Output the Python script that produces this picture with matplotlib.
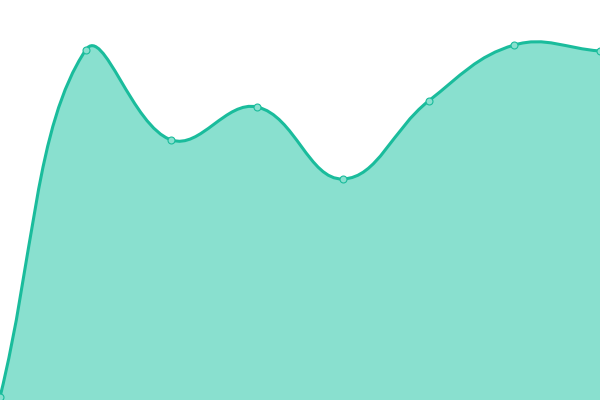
import numpy as np
import matplotlib
matplotlib.use("Agg")
import matplotlib.pyplot as plt
from matplotlib.path import Path
from matplotlib.patches import PathPatch

# Data (index on x, value on a 0..400 scale).
labels = ["0", "1", "2", "3", "4", "5", "6", "7"]
values = [3, 350, 260, 293, 221, 299, 355, 349]

LineColour = "#1abc9c"
FillColour = "#89e0cf"
Tension = 0.4 # Smoothing like a tension spline.

def spline_path(Points, Tension):
	# Build cubic bezier segments through the points (in pixel space).
	N = len(Points)
	CpPrev = np.zeros_like(Points)
	CpNext = np.zeros_like(Points)
	for i in range(N):
		Prev = Points[max(i - 1, 0)]
		Cur = Points[i]
		Next = Points[min(i + 1, N - 1)]
		D01 = np.hypot(*(Cur - Prev))
		D12 = np.hypot(*(Next - Cur))
		Total = D01 + D12
		S01 = D01 / Total if Total else 0
		S12 = D12 / Total if Total else 0
		CpPrev[i] = Cur - Tension * S01 * (Next - Prev)
		CpNext[i] = Cur + Tension * S12 * (Next - Prev)
	Verts = [Points[0]]
	Codes = [Path.MOVETO]
	for i in range(N - 1):
		Verts += [CpNext[i], CpPrev[i + 1], Points[i + 1]]
		Codes += [Path.CURVE4] * 3
	return np.array(Verts), Codes

fig = plt.figure(figsize=(6, 4), dpi=100)
ax = fig.add_axes([0, 0, 1, 1])
ax.set_xlim(0, len(values) - 1)
ax.set_ylim(0, 400)
ax.axis("off")

x = np.arange(len(values))
DataPoints = np.column_stack([x, values]).astype(float)
PixelPoints = ax.transData.transform(DataPoints)
Verts, Codes = spline_path(PixelPoints, Tension)
Verts = ax.transData.inverted().transform(Verts)

# Filled area under the curve.
FillVerts = np.vstack([Verts, [[x[-1], 0], [x[0], 0], Verts[0]]])
FillCodes = Codes + [Path.LINETO, Path.LINETO, Path.CLOSEPOLY]
ax.add_patch(PathPatch(Path(FillVerts, FillCodes), facecolor=FillColour, edgecolor="none", zorder=1))

# The line itself.
ax.add_patch(PathPatch(Path(Verts, Codes), facecolor="none", edgecolor=LineColour, linewidth=2.2, zorder=2))

# Point markers.
ax.plot(x, values, linestyle="none", marker="o", markersize=5, markerfacecolor=FillColour,
	markeredgecolor=LineColour, markeredgewidth=0.8, zorder=3, clip_on=False)

fig.savefig("out.png", dpi=100)
